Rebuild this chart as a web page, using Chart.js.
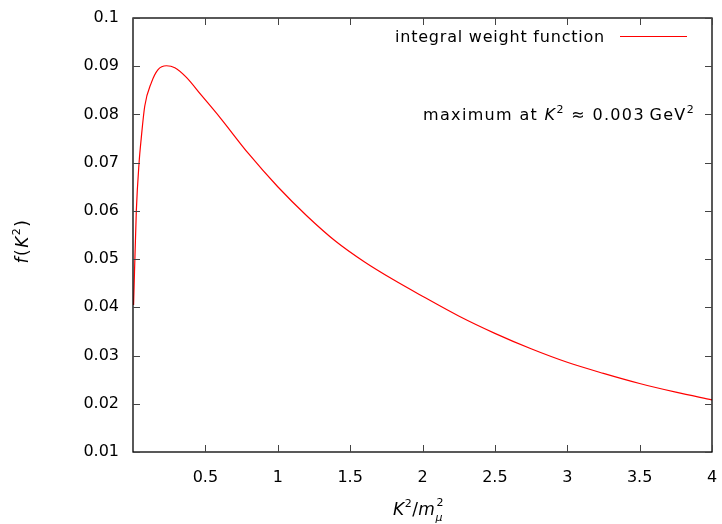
<!DOCTYPE html>
<html><head><meta charset="utf-8">
<script src="https://cdn.jsdelivr.net/npm/chart.js@4.4.1/dist/chart.umd.min.js"></script>
<style>html,body{margin:0;padding:0;background:#fff}#wrap{width:722px;height:524px}</style>
</head><body><div id="wrap"><canvas id="c" width="722" height="524"></canvas></div>
<script>
// data
const xValues = [0.004, 0.023, 0.042, 0.057, 0.081, 0.127, 0.173, 0.231, 0.289, 0.369, 0.472, 0.6, 0.8, 1.0, 1.2, 1.4, 1.6, 1.8, 2.0, 2.25, 2.5, 2.75, 3.0, 3.25, 3.5, 3.75, 4.0];
const yValues = [0.0405, 0.0600, 0.0700, 0.0751, 0.0817, 0.0866, 0.0893, 0.0901, 0.0897, 0.0877, 0.0840, 0.0794, 0.0718, 0.0650, 0.0590, 0.0537, 0.0494, 0.0457, 0.0423, 0.0382, 0.0346, 0.0314, 0.0286, 0.0263, 0.0242, 0.0224, 0.0208];
const xTicks = [0.5, 1, 1.5, 2, 2.5, 3, 3.5, 4];
const yTicks = [0.01, 0.02, 0.03, 0.04, 0.05, 0.06, 0.07, 0.08, 0.09, 0.1];
const seriesLabel = 'integral weight function';

const FONT = '"DejaVu Sans", sans-serif';
const points = xValues.map((x, i) => ({x, y: yValues[i]}));

function drawRuns(ctx, parts, x, y, spacing) {
  parts.forEach(p => {
    ctx.font = p[1];
    ctx.letterSpacing = (spacing || 0) + 'px';
    ctx.fillText(p[0], x, y + p[2]);
    x += ctx.measureText(p[0]).width;
  });
  ctx.letterSpacing = '0px';
  return x;
}
function runsWidth(ctx, parts, spacing) {
  let w = 0;
  parts.forEach(p => { ctx.font = p[1]; ctx.letterSpacing = (spacing || 0) + 'px'; w += ctx.measureText(p[0]).width; });
  ctx.letterSpacing = '0px';
  return w;
}
function fitSpacing(ctx, parts, target) {
  const w0 = runsWidth(ctx, parts, 0);
  const n = parts.reduce((s, p) => s + [...p[0]].length, 0);
  return (target - w0) / n;
}
function noPad(s) { s.paddingLeft = 0; s.paddingRight = 0; s.paddingTop = 0; s.paddingBottom = 0; }

const framePlugin = {
  id: 'frame',
  afterDraw(chart) {
    const ctx = chart.ctx, a = chart.chartArea;
    const xs = chart.scales.x, ys = chart.scales.y;
    ctx.save();
    ctx.strokeStyle = '#000';
    ctx.lineWidth = 1.3;
    ctx.strokeRect(a.left, a.top, a.right - a.left, a.bottom - a.top);
    ctx.lineWidth = 1;
    ctx.strokeStyle = '#444';
    const tl = 7;
    xTicks.forEach(v => {
      const p = Math.round(xs.getPixelForValue(v)) + 0.5;
      ctx.beginPath(); ctx.moveTo(p, a.bottom); ctx.lineTo(p, a.bottom - tl);
      ctx.moveTo(p, a.top); ctx.lineTo(p, a.top + tl); ctx.stroke();
    });
    yTicks.forEach(v => {
      const p = Math.round(ys.getPixelForValue(v)) + 0.5;
      ctx.beginPath(); ctx.moveTo(a.left, p); ctx.lineTo(a.left + tl, p);
      ctx.moveTo(a.right, p); ctx.lineTo(a.right - tl, p); ctx.stroke();
    });
    ctx.fillStyle = '#000';
    ctx.textAlign = 'left'; ctx.textBaseline = 'alphabetic';
    // legend
    const lg = [[seriesLabel, '16px ' + FONT, 0]];
    let sp = fitSpacing(ctx, lg, 210);
    drawRuns(ctx, lg, 395, 42, sp);
    ctx.strokeStyle = '#ff0000'; ctx.lineWidth = 1;
    ctx.beginPath(); ctx.moveTo(620, 36.5); ctx.lineTo(687, 36.5); ctx.stroke();
    // annotation
    const an = [
      ['maximum at ', '16px ' + FONT, 0],
      ['K', 'oblique 16px ' + FONT, 0],
      ['2', '11px ' + FONT, -7],
      [' \u2248 0.003\u2009GeV', '16px ' + FONT, 0],
      ['2', '11px ' + FONT, -7]
    ];
    sp = fitSpacing(ctx, an, 272);
    drawRuns(ctx, an, 423, 120, sp);
    // x title
    const xp = [
      ['K', 'oblique 17px ' + FONT, 0],
      ['2', '11px ' + FONT, -8],
      ['/', '17px ' + FONT, 0],
      ['m', 'oblique 17px ' + FONT, 0]
    ];
    let x = drawRuns(ctx, xp, 393, 515, 0.5);
    ctx.font = '11px ' + FONT; ctx.fillText('2', x + 1, 506);
    ctx.font = 'oblique 11px ' + FONT; ctx.fillText('\u03bc', x, 521);
    // y title
    ctx.translate(28, 241);
    ctx.rotate(-Math.PI / 2);
    const yp = [
      ['f', 'oblique 17px ' + FONT, 0],
      ['(', '17px ' + FONT, 0],
      ['K', 'oblique 17px ' + FONT, 0],
      ['2', '11px ' + FONT, -8],
      [')', '17px ' + FONT, 0]
    ];
    const yw = runsWidth(ctx, yp, 1.5);
    drawRuns(ctx, yp, -yw / 2, 0, 1.5);
    ctx.restore();
  }
};

new Chart(document.getElementById('c'), {
  type: 'line',
  data: { datasets: [{ label: seriesLabel, data: points, borderColor: '#ff0000', borderWidth: 1.2, pointRadius: 0, cubicInterpolationMode: 'monotone', fill: false }] },
  options: {
    responsive: false, animation: false,
    layout: { padding: { top: 18, right: 10, left: 0, bottom: 0 } },
    plugins: { legend: { display: false }, tooltip: { enabled: false } },
    scales: {
      x: {
        type: 'linear', min: 0, max: 4,
        afterFit(s) { s.height = 72; noPad(s); },
        afterBuildTicks(s) { s.ticks = xTicks.map(v => ({value: v})); },
        grid: { display: false, drawTicks: false },
        border: { display: false },
        ticks: { color: '#000', font: { family: FONT, size: 16 }, padding: 16, maxRotation: 0, callback: v => String(v) }
      },
      y: {
        type: 'linear', min: 0.01, max: 0.1,
        afterFit(s) { s.width = 133; noPad(s); },
        afterBuildTicks(s) { s.ticks = yTicks.map(v => ({value: v})); },
        grid: { display: false, drawTicks: false },
        border: { display: false },
        ticks: { color: '#000', font: { family: FONT, size: 16 }, padding: 14, callback: v => String(+v.toFixed(2)) }
      }
    }
  },
  plugins: [framePlugin]
});
</script></body></html>
